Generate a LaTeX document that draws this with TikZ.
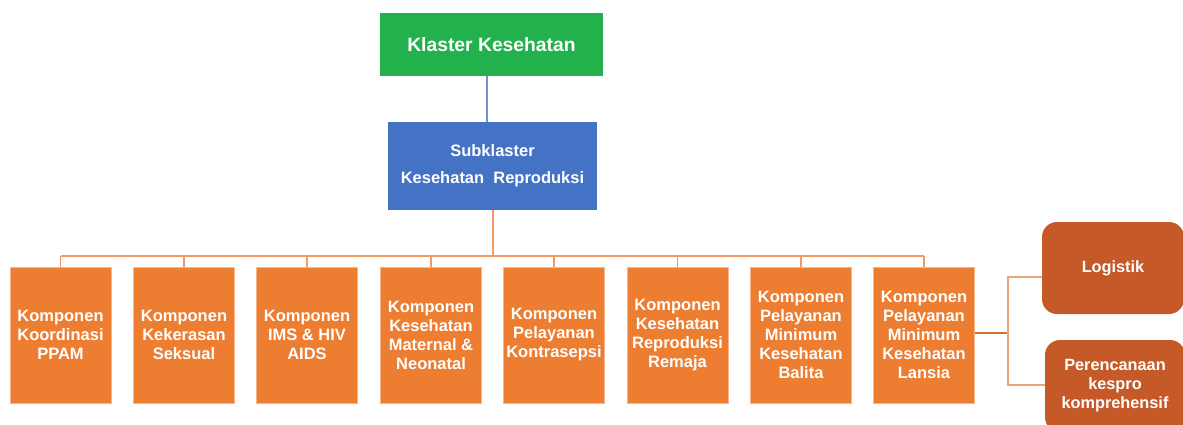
\documentclass[tikz,border=0pt]{standalone}
\usepackage{fontspec}
\setmainfont{Liberation Sans}
\definecolor{kgreen}{HTML}{22B14C}
\definecolor{kblue}{HTML}{4472C4}
\definecolor{kbluelight}{HTML}{6F92D2}
\definecolor{korange}{HTML}{ED7D31}
\definecolor{kborder}{HTML}{F6B48A}
\definecolor{kdark}{HTML}{C55A28}
\definecolor{kbus}{HTML}{F09A62}
\definecolor{klight}{HTML}{E9A47C}
\begin{document}
\begin{tikzpicture}[x=1pt,y=-1pt,
  txt/.style={text=white,align=center,inner sep=0pt},
  comp/.style={txt,fill=korange,draw=kborder,line width=0.6pt,
    minimum width=101pt,minimum height=136pt,
    font=\fontsize{16.5}{19}\selectfont\bfseries},
  side/.style={txt,fill=kdark,rounded corners=15pt,
    minimum width=142pt,minimum height=92pt,
    font=\fontsize{16.3}{19}\selectfont\bfseries},
  bus/.style={draw=kbus,line width=1.4pt},
  sidelink/.style={draw=klight,line width=1.4pt},
  stub/.style={draw=korange!90!black,line width=1.4pt}
]
\useasboundingbox (0,0) rectangle (1183,424);
\clip (0,0) rectangle (1183,424);

% top of the hierarchy
\node[txt,fill=kgreen,minimum width=223pt,minimum height=63pt,
  font=\fontsize{19.3}{22}\selectfont\bfseries] (klaster) at (491.5,44.5) {Klaster Kesehatan};
\node[txt,fill=kblue,minimum width=209pt,minimum height=88pt,
  font=\fontsize{16.5}{19}\selectfont\bfseries] (sub) at (492.5,166)
  {Subklaster\\[8pt]Kesehatan\ \ Reproduksi};

% components
\node[comp] (c1) at (60.5,335) {Komponen\\Koordinasi\\PPAM};
\node[comp] (c2) at (184,335) {Komponen\\Kekerasan\\Seksual};
\node[comp] (c3) at (307,335) {Komponen\\IMS \& HIV\\AIDS};
\node[comp] (c4) at (431,335) {Komponen\\Kesehatan\\Maternal \&\\Neonatal};
\node[comp] (c5) at (554,335) {Komponen\\Pelayanan\\Kontrasepsi};
\node[comp] (c6) at (677.5,335) {Komponen\\Kesehatan\\Reproduksi\\Remaja};
\node[comp] (c7) at (801,335) {Komponen\\Pelayanan\\Minimum\\Kesehatan\\Balita};
\node[comp] (c8) at (924,335) {Komponen\\Pelayanan\\Minimum\\Kesehatan\\Lansia};

% side items
\node[side] (log) at (1113,268) {Logistik};
\node[side,minimum width=140pt] (per) at (1115,386) {Perencanaan\\kespro\\komprehensif};

% klaster to subklaster
\coordinate (gx) at (487,0);
\draw[draw=kbluelight,line width=1.6pt] (klaster.south -| gx) -- (sub.north -| gx);

% subklaster to components
\coordinate (bx) at (493,0);
\coordinate (busy) at (0,256);
\draw[bus] (sub.south -| bx) -- (busy -| bx);
\draw[bus] (busy -| c1) -- (busy -| c8);
\foreach \c in {c1,c2,c3,c4,c5,c6,c7,c8}
  \draw[bus] (busy -| \c) -- (\c.north);

% last component to side items
\coordinate (j) at (1008,333);
\coordinate (jt) at (1008,277);
\coordinate (jb) at (1008,385);
\draw[stub] (c8.east |- j) -- (j);
\draw[sidelink] (jt -| log.west) -- (jt) -- (jb) -- (jb -| per.west);
\end{tikzpicture}
\end{document}
